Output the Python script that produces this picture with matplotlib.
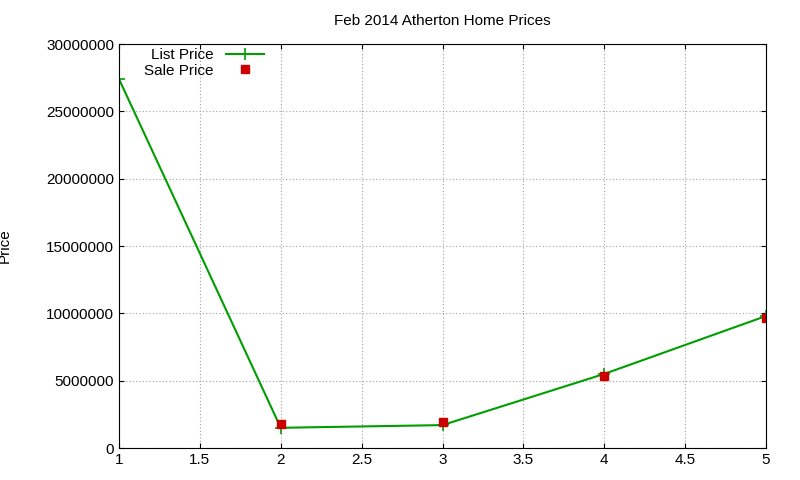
import matplotlib
matplotlib.use("Agg")
import matplotlib.pyplot as plt

x_list = [1, 2, 3, 4, 5]
list_price = [27400000, 1500000, 1700000, 5500000, 9800000]
x_sale = [2, 3, 4, 5]
sale_price = [1750000, 1950000, 5350000, 9650000]

plt.rcParams['font.family'] = ['Liberation Sans', 'DejaVu Sans']
fig = plt.figure(figsize=(8, 4.8), dpi=100)
ax = fig.add_axes([119/800, 1-448/480, (766-119)/800, (448-44)/480])
ax.plot(x_list, list_price, color='#009e00', lw=1.5, marker='+', ms=8, mew=1.2, label='List Price')
ax.plot(x_sale, sale_price, ls='none', marker='s', color='#cc0000', ms=6, label='Sale Price')
ax.set_xlim(1, 5)
ax.set_ylim(0, 30000000)
ax.set_xticks([1, 1.5, 2, 2.5, 3, 3.5, 4, 4.5, 5])
ax.set_xticklabels(['1', '1.5', '2', '2.5', '3', '3.5', '4', '4.5', '5'])
ax.set_yticks(range(0, 30000001, 5000000))
ax.set_yticklabels([str(v) for v in range(0, 30000001, 5000000)])
ax.grid(True, color='#a0a0a0', ls=(0, (1, 2)), lw=0.8)
ax.tick_params(direction='in', labelsize=11, top=True, right=True)
ax.set_ylabel('Price', fontsize=11)
ax.yaxis.set_label_coords(-0.165, 0.5)
ax.set_title('Feb 2014 Atherton Home Prices', fontsize=11, pad=14)
leg = ax.legend(loc='upper left', bbox_to_anchor=(0.025, 1.012), frameon=False, fontsize=11,
                markerfirst=False, handlelength=2.5, borderaxespad=0.2, labelspacing=0.1)
for t in leg.get_texts():
    t.set_ha('right')
fig.savefig('out.png', dpi=100)
